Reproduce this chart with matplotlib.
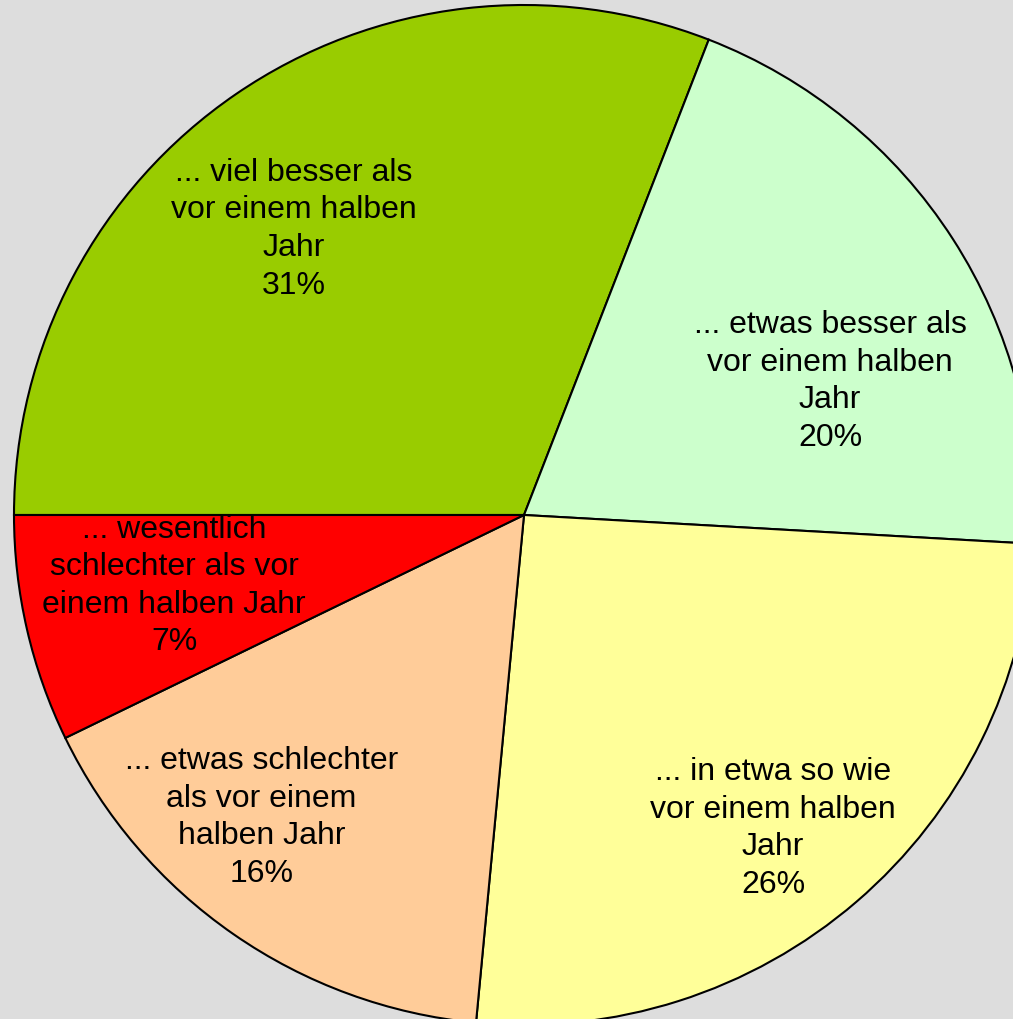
import matplotlib
matplotlib.use("Agg")
import matplotlib.pyplot as plt
import numpy as np

# answer categories and shares (clockwise from 9 o'clock)
labels = ["... viel besser als\nvor einem halben\nJahr",
          "... etwas besser als\nvor einem halben\nJahr",
          "... in etwa so wie\nvor einem halben\nJahr",
          "... etwas schlechter\nals vor einem\nhalben Jahr",
          "... wesentlich\nschlechter als vor\neinem halben Jahr"]
shares = [30.9, 20.0, 25.6, 16.3, 7.2]
shown = ["31%", "20%", "26%", "16%", "7%"]
colors = ["#99CC00", "#CCFFCC", "#FFFF99", "#FFCC99", "#FF0000"]

# label placement: (radius fraction, angle offset in degrees from slice middle)
label_place = [(0.72, 4.5), (0.655, -9.2), (0.785, -2.2), (0.785, -6.2), (0.70, -1.5)]

W, H = 1013, 1019
cx, cy, R = 524, 515, 510

fig = plt.figure(figsize=(W / 100, H / 100), dpi=100)
fig.patch.set_facecolor("#DDDDDD")
ax = fig.add_axes([0, 0, 1, 1])
ax.set_facecolor("#DDDDDD")

wedges, _ = ax.pie(shares, colors=colors, startangle=180, counterclock=False,
                   wedgeprops=dict(edgecolor="black", linewidth=1.5))

ax.set_xlim(-cx / R, (W - cx) / R)
ax.set_ylim(-(H - cy) / R, cy / R)
ax.set_aspect("auto")
ax.axis("off")

for w, lab, s, (rf, dang) in zip(wedges, labels, shown, label_place):
    mid = np.deg2rad((w.theta1 + w.theta2) / 2 + dang)
    ax.text(rf * np.cos(mid), rf * np.sin(mid), f"{lab}\n{s}",
            ha="center", va="center", fontsize=23, family="Liberation Sans",
            linespacing=1.33)

fig.savefig("out.png", dpi=100, facecolor=fig.get_facecolor())
